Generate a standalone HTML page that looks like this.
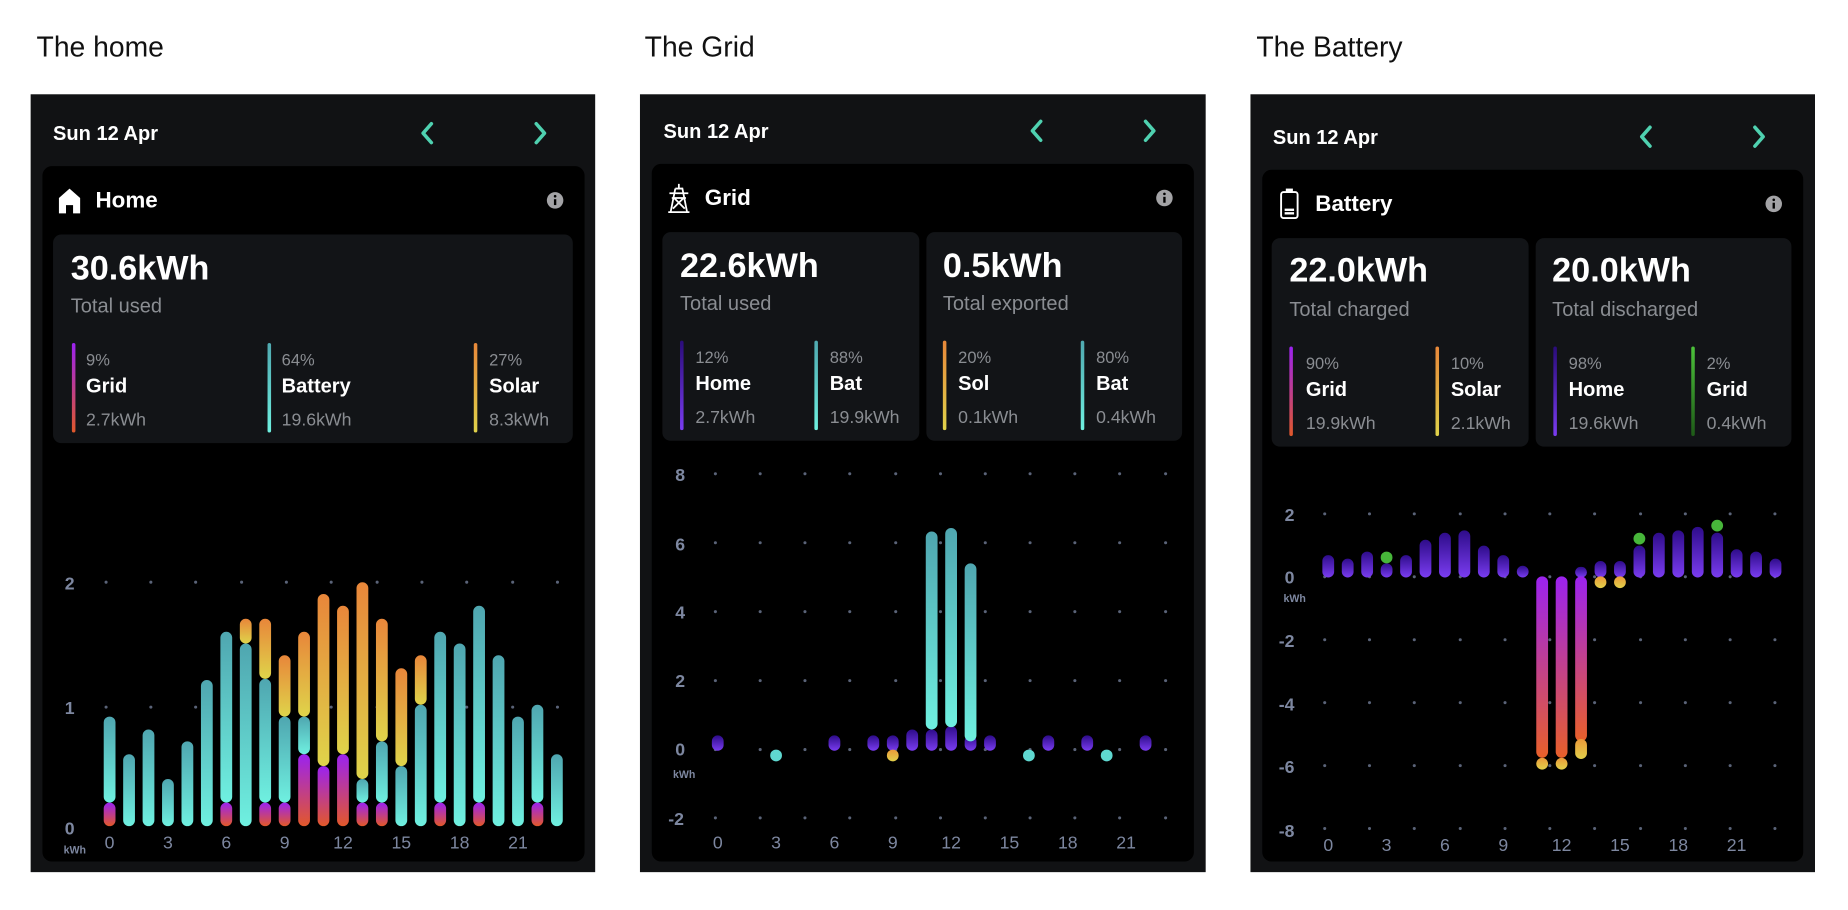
<!DOCTYPE html>
<html><head><meta charset="utf-8">
<style>
html,body{margin:0;padding:0;background:#fff;width:1848px;height:910px;overflow:hidden;}
#w{position:absolute;left:0;top:0;width:1568px;height:772px;transform:scale(1.17857);transform-origin:0 0;font-family:"Liberation Sans",sans-serif;}
.a{position:absolute;white-space:nowrap;line-height:1;}
.title{font-size:24px;color:#111;}
.panel{position:absolute;background:#111214;}
.card{position:absolute;background:#000;border-radius:8px;}
.box{position:absolute;background:#121417;border-radius:7px;}
.date{font-size:17px;font-weight:bold;color:#fff;}
.hd{font-size:19px;font-weight:bold;color:#fff;}
.big{font-size:29px;font-weight:bold;color:#fff;}
.sub{font-size:17px;color:#8a8d92;}
.pct{font-size:14px;color:#8a8d92;}
.nm{font-size:17px;font-weight:bold;color:#fff;}
.kw{font-size:15px;color:#8a8d92;}
.cb{position:absolute;width:3px;border-radius:2px;}
svg{position:absolute;left:0;top:0;}
</style></head><body><div id="w">
<div class="a title" style="left:31px;top:29px">The home</div>
<div class="a title" style="left:547px;top:29px">The Grid</div>
<div class="a title" style="left:1066px;top:29px">The Battery</div>

<div class="panel" style="left:26px;top:80px;width:479px;height:660px"></div>
<div class="panel" style="left:543px;top:80px;width:480px;height:660px"></div>
<div class="panel" style="left:1061px;top:80px;width:479px;height:660px"></div>

<div class="card" style="left:36px;top:141px;width:460px;height:590px"></div>
<div class="card" style="left:553px;top:139px;width:460px;height:592px"></div>
<div class="card" style="left:1071px;top:144px;width:459px;height:587px"></div>

<div class="a date" style="left:45px;top:105px">Sun 12 Apr</div>
<div class="a date" style="left:563px;top:103px">Sun 12 Apr</div>
<div class="a date" style="left:1080px;top:108px">Sun 12 Apr</div>

<div class="a hd" style="left:81px;top:161px">Home</div>
<div class="a hd" style="left:598px;top:159px">Grid</div>
<div class="a hd" style="left:1116px;top:164px">Battery</div>

<div class="box" style="left:45px;top:199px;width:441px;height:177px"></div>
<div class="box" style="left:562px;top:197px;width:218px;height:177px"></div>
<div class="box" style="left:786px;top:197px;width:217px;height:177px"></div>
<div class="box" style="left:1079px;top:202px;width:218px;height:177px"></div>
<div class="box" style="left:1303px;top:202px;width:217px;height:177px"></div>

<div class="a big" style="left:60px;top:214px">30.6kWh</div>
<div class="a sub" style="left:60px;top:251px">Total used</div>
<div class="cb" style="left:61px;top:291px;height:76px;background:linear-gradient(#9b22f0,#e0582a)"></div>
<div class="a pct" style="left:73px;top:298px">9%</div>
<div class="a nm" style="left:73px;top:319px">Grid</div>
<div class="a kw" style="left:73px;top:349px">2.7kWh</div>
<div class="cb" style="left:227px;top:291px;height:76px;background:linear-gradient(#4fa9b0,#6ff0e0)"></div>
<div class="a pct" style="left:239px;top:298px">64%</div>
<div class="a nm" style="left:239px;top:319px">Battery</div>
<div class="a kw" style="left:239px;top:349px">19.6kWh</div>
<div class="cb" style="left:402px;top:291px;height:76px;background:linear-gradient(#e8883a,#dfd24a)"></div>
<div class="a pct" style="left:415px;top:298px">27%</div>
<div class="a nm" style="left:415px;top:319px">Solar</div>
<div class="a kw" style="left:415px;top:349px">8.3kWh</div>

<div class="a big" style="left:577px;top:212px">22.6kWh</div>
<div class="a sub" style="left:577px;top:249px">Total used</div>
<div class="cb" style="left:577px;top:289px;height:76px;background:linear-gradient(#2a0c7a,#7a3cf0)"></div>
<div class="a pct" style="left:590px;top:296px">12%</div>
<div class="a nm" style="left:590px;top:317px">Home</div>
<div class="a kw" style="left:590px;top:347px">2.7kWh</div>
<div class="cb" style="left:691px;top:289px;height:76px;background:linear-gradient(#4fa9b0,#6ff0e0)"></div>
<div class="a pct" style="left:704px;top:296px">88%</div>
<div class="a nm" style="left:704px;top:317px">Bat</div>
<div class="a kw" style="left:704px;top:347px">19.9kWh</div>
<div class="a big" style="left:800px;top:212px">0.5kWh</div>
<div class="a sub" style="left:800px;top:249px">Total exported</div>
<div class="cb" style="left:800px;top:289px;height:76px;background:linear-gradient(#e8883a,#dfd24a)"></div>
<div class="a pct" style="left:813px;top:296px">20%</div>
<div class="a nm" style="left:813px;top:317px">Sol</div>
<div class="a kw" style="left:813px;top:347px">0.1kWh</div>
<div class="cb" style="left:917px;top:289px;height:76px;background:linear-gradient(#4fa9b0,#6ff0e0)"></div>
<div class="a pct" style="left:930px;top:296px">80%</div>
<div class="a nm" style="left:930px;top:317px">Bat</div>
<div class="a kw" style="left:930px;top:347px">0.4kWh</div>

<div class="a big" style="left:1094px;top:216px">22.0kWh</div>
<div class="a sub" style="left:1094px;top:254px">Total charged</div>
<div class="cb" style="left:1094px;top:294px;height:76px;background:linear-gradient(#9b22f0,#e0582a)"></div>
<div class="a pct" style="left:1108px;top:301px">90%</div>
<div class="a nm" style="left:1108px;top:322px">Grid</div>
<div class="a kw" style="left:1108px;top:352px">19.9kWh</div>
<div class="cb" style="left:1218px;top:294px;height:76px;background:linear-gradient(#e8883a,#dfd24a)"></div>
<div class="a pct" style="left:1231px;top:301px">10%</div>
<div class="a nm" style="left:1231px;top:322px">Solar</div>
<div class="a kw" style="left:1231px;top:352px">2.1kWh</div>
<div class="a big" style="left:1317px;top:216px">20.0kWh</div>
<div class="a sub" style="left:1317px;top:254px">Total discharged</div>
<div class="cb" style="left:1318px;top:294px;height:76px;background:linear-gradient(#2a0c7a,#7a3cf0)"></div>
<div class="a pct" style="left:1331px;top:301px">98%</div>
<div class="a nm" style="left:1331px;top:322px">Home</div>
<div class="a kw" style="left:1331px;top:352px">19.6kWh</div>
<div class="cb" style="left:1435px;top:294px;height:76px;background:linear-gradient(#4cc23a,#1e5a18)"></div>
<div class="a pct" style="left:1448px;top:301px">2%</div>
<div class="a nm" style="left:1448px;top:322px">Grid</div>
<div class="a kw" style="left:1448px;top:352px">0.4kWh</div>

<svg width="1568" height="772" viewBox="0 0 1568 772">
<defs>
<linearGradient id="gT" x1="0" y1="0" x2="0" y2="1"><stop offset="0" stop-color="#4fa6b0"/><stop offset="1" stop-color="#6ff0e0"/></linearGradient>
<linearGradient id="gS" x1="0" y1="0" x2="0" y2="1"><stop offset="0" stop-color="#e8863a"/><stop offset="1" stop-color="#dfd44a"/></linearGradient>
<linearGradient id="gG" x1="0" y1="0" x2="0" y2="1"><stop offset="0" stop-color="#9b22f0"/><stop offset="1" stop-color="#e2582a"/></linearGradient>
<linearGradient id="gP" x1="0" y1="0" x2="0" y2="1"><stop offset="0" stop-color="#2e0c8a"/><stop offset="1" stop-color="#7a3cf0"/></linearGradient>
<linearGradient id="gD" x1="0" y1="0" x2="0" y2="1"><stop offset="0" stop-color="#9b22f0"/><stop offset="1" stop-color="#e8602a"/></linearGradient>
<linearGradient id="gY" x1="0" y1="0" x2="0" y2="1"><stop offset="0" stop-color="#eb9a3a"/><stop offset="1" stop-color="#e2d04a"/></linearGradient>
</defs>
<g fill="none" stroke="#4fd1b0" stroke-width="3" stroke-linecap="round" stroke-linejoin="round">
<polyline points="366,105 359,113 366,121"/><polyline points="455,105 462,113 455,121"/>
<polyline points="883,103 876,111 883,119"/><polyline points="972,103 979,111 972,119"/>
<polyline points="1400,108 1393,116 1400,124"/><polyline points="1489,108 1496,116 1489,124"/>
</g>
<g fill="#a3a3a6"><circle cx="471" cy="170" r="7"/><circle cx="988" cy="168" r="7"/><circle cx="1505" cy="173" r="7"/></g>
<g fill="#000"><rect x="470" y="169" width="2" height="5"/><circle cx="471" cy="166.5" r="1.1"/><rect x="987" y="167" width="2" height="5"/><circle cx="988" cy="164.5" r="1.1"/><rect x="1504" y="172" width="2" height="5"/><circle cx="1505" cy="169.5" r="1.1"/></g>
<path d="M50,168 L59,160 L68,168 L68,181 L62,181 L62,174 L56,174 L56,181 L50,181 Z" fill="#fff"/>
<g stroke="#fff" stroke-width="1.5" fill="none"><path d="M576,156 L576,160 M568,164 L584,164 M570,168 L582,168 M573,160 L579,160 L583,180 M573,160 L569,180 M567,180 L585,180 M572,168 L581,177 M580,168 L571,177"/></g>
<g stroke="#fff" stroke-width="1.6" fill="none"><rect x="1087" y="163" width="14" height="22" rx="2"/></g>
<rect x="1091" y="160" width="6" height="3" fill="#fff"/><rect x="1090" y="177" width="8" height="2" fill="#fff"/><rect x="1090" y="180" width="8" height="2" fill="#fff"/>

<!-- HOME -->
<g fill="#5a6378">
<g id="r1"><circle cx="90" cy="494" r="1.3"/><circle cx="128" cy="494" r="1.3"/><circle cx="166" cy="494" r="1.3"/><circle cx="205" cy="494" r="1.3"/><circle cx="243" cy="494" r="1.3"/><circle cx="281" cy="494" r="1.3"/><circle cx="320" cy="494" r="1.3"/><circle cx="358" cy="494" r="1.3"/><circle cx="396" cy="494" r="1.3"/><circle cx="435" cy="494" r="1.3"/><circle cx="473" cy="494" r="1.3"/></g>
<use href="#r1" y="106"/>
</g>
<g font-family="Liberation Sans, sans-serif" font-weight="bold" font-size="15" fill="#7d87a0">
<text x="55" y="500">2</text><text x="55" y="606">1</text><text x="55" y="708">0</text>
<text x="54" y="724" font-size="9">kWh</text>
</g>
<g font-family="Liberation Sans, sans-serif" font-size="15" fill="#7d87a0" text-anchor="middle">
<text x="93" y="720">0</text><text x="142.5" y="720">3</text><text x="192" y="720">6</text><text x="241.5" y="720">9</text><text x="291" y="720">12</text><text x="340.5" y="720">15</text><text x="390" y="720">18</text><text x="439.5" y="720">21</text>
</g>
<g>
<rect x="88" y="681" width="10" height="20" rx="5" fill="url(#gG)"/><rect x="88" y="608" width="10" height="73" rx="5" fill="url(#gT)"/>
<rect x="104.5" y="640" width="10" height="61" rx="5" fill="url(#gT)"/>
<rect x="121" y="619" width="10" height="82" rx="5" fill="url(#gT)"/>
<rect x="137.5" y="661" width="10" height="40" rx="5" fill="url(#gT)"/>
<rect x="154" y="629" width="10" height="72" rx="5" fill="url(#gT)"/>
<rect x="170.5" y="577" width="10" height="124" rx="5" fill="url(#gT)"/>
<rect x="187" y="681" width="10" height="20" rx="5" fill="url(#gG)"/><rect x="187" y="536" width="10" height="145" rx="5" fill="url(#gT)"/>
<rect x="203.5" y="546" width="10" height="155" rx="5" fill="url(#gT)"/><rect x="203.5" y="525" width="10" height="21" rx="5" fill="url(#gS)"/>
<rect x="220" y="681" width="10" height="20" rx="5" fill="url(#gG)"/><rect x="220" y="576" width="10" height="105" rx="5" fill="url(#gT)"/><rect x="220" y="525" width="10" height="51" rx="5" fill="url(#gS)"/>
<rect x="236.5" y="681" width="10" height="20" rx="5" fill="url(#gG)"/><rect x="236.5" y="608" width="10" height="73" rx="5" fill="url(#gT)"/><rect x="236.5" y="556" width="10" height="52" rx="5" fill="url(#gS)"/>
<rect x="253" y="640" width="10" height="61" rx="5" fill="url(#gG)"/><rect x="253" y="608" width="10" height="32" rx="5" fill="url(#gT)"/><rect x="253" y="536" width="10" height="72" rx="5" fill="url(#gS)"/>
<rect x="269.5" y="650" width="10" height="51" rx="5" fill="url(#gG)"/><rect x="269.5" y="504" width="10" height="146" rx="5" fill="url(#gS)"/>
<rect x="286" y="640" width="10" height="61" rx="5" fill="url(#gG)"/><rect x="286" y="514" width="10" height="126" rx="5" fill="url(#gS)"/>
<rect x="302.5" y="681" width="10" height="20" rx="5" fill="url(#gG)"/><rect x="302.5" y="661" width="10" height="20" rx="5" fill="url(#gT)"/><rect x="302.5" y="494" width="10" height="167" rx="5" fill="url(#gS)"/>
<rect x="319" y="681" width="10" height="20" rx="5" fill="url(#gG)"/><rect x="319" y="629" width="10" height="52" rx="5" fill="url(#gT)"/><rect x="319" y="525" width="10" height="104" rx="5" fill="url(#gS)"/>
<rect x="335.5" y="650" width="10" height="51" rx="5" fill="url(#gT)"/><rect x="335.5" y="567" width="10" height="83" rx="5" fill="url(#gS)"/>
<rect x="352" y="598" width="10" height="103" rx="5" fill="url(#gT)"/><rect x="352" y="556" width="10" height="42" rx="5" fill="url(#gS)"/>
<rect x="368.5" y="681" width="10" height="20" rx="5" fill="url(#gG)"/><rect x="368.5" y="536" width="10" height="145" rx="5" fill="url(#gT)"/>
<rect x="385" y="546" width="10" height="155" rx="5" fill="url(#gT)"/>
<rect x="401.5" y="681" width="10" height="20" rx="5" fill="url(#gG)"/><rect x="401.5" y="514" width="10" height="167" rx="5" fill="url(#gT)"/>
<rect x="418" y="556" width="10" height="145" rx="5" fill="url(#gT)"/>
<rect x="434.5" y="608" width="10" height="93" rx="5" fill="url(#gT)"/>
<rect x="451" y="681" width="10" height="20" rx="5" fill="url(#gG)"/><rect x="451" y="598" width="10" height="83" rx="5" fill="url(#gT)"/>
<rect x="467.5" y="640" width="10" height="61" rx="5" fill="url(#gT)"/>
</g>

<!-- GRID -->
<g fill="#5a6378">
<g id="r2"><circle cx="607" cy="402" r="1.3"/><circle cx="645" cy="402" r="1.3"/><circle cx="683" cy="402" r="1.3"/><circle cx="721" cy="402" r="1.3"/><circle cx="760" cy="402" r="1.3"/><circle cx="798" cy="402" r="1.3"/><circle cx="836" cy="402" r="1.3"/><circle cx="874" cy="402" r="1.3"/><circle cx="912" cy="402" r="1.3"/><circle cx="950" cy="402" r="1.3"/><circle cx="989" cy="402" r="1.3"/></g>
<use href="#r2" y="58.5"/><use href="#r2" y="117"/><use href="#r2" y="175.5"/><use href="#r2" y="234"/><use href="#r2" y="292"/>
</g>
<g font-family="Liberation Sans, sans-serif" font-weight="bold" font-size="15" fill="#7d87a0">
<text x="573" y="408">8</text><text x="573" y="467">6</text><text x="573" y="525">4</text><text x="573" y="583">2</text><text x="573" y="641">0</text><text x="567" y="700">-2</text>
<text x="571" y="660" font-size="9">kWh</text>
</g>
<g font-family="Liberation Sans, sans-serif" font-size="15" fill="#7d87a0" text-anchor="middle">
<text x="609" y="720">0</text><text x="658.5" y="720">3</text><text x="708" y="720">6</text><text x="757.5" y="720">9</text><text x="807" y="720">12</text><text x="856.5" y="720">15</text><text x="906" y="720">18</text><text x="955.5" y="720">21</text>
</g>
<g fill="url(#gP)">
<rect x="604" y="624" width="10" height="13" rx="5"/>
<rect x="703" y="624" width="10" height="13" rx="5"/>
<rect x="736" y="624" width="10" height="13" rx="5"/>
<rect x="752.5" y="624" width="10" height="13" rx="5"/>
<rect x="769" y="619" width="10" height="18" rx="5"/>
<rect x="785.5" y="619" width="10" height="18" rx="5"/>
<rect x="802" y="616" width="10" height="21" rx="5"/>
<rect x="818.5" y="624" width="10" height="13" rx="5"/>
<rect x="835" y="624" width="10" height="13" rx="5"/>
<rect x="884.5" y="624" width="10" height="13" rx="5"/>
<rect x="917.5" y="624" width="10" height="13" rx="5"/>
<rect x="967" y="624" width="10" height="13" rx="5"/>
</g>
<rect x="785.5" y="451" width="10" height="168" rx="5" fill="url(#gT)"/>
<rect x="802" y="448" width="10" height="169" rx="5" fill="url(#gT)"/>
<rect x="818.5" y="478" width="10" height="151" rx="5" fill="url(#gT)"/>
<g fill="#5fd8d0"><circle cx="658.5" cy="641" r="5"/><circle cx="873" cy="641" r="5"/><circle cx="939" cy="641" r="5"/></g>
<circle cx="757.5" cy="641" r="5" fill="url(#gY)"/>

<!-- BATTERY -->
<g fill="#5a6378">
<g id="r3"><circle cx="1124" cy="436" r="1.3"/><circle cx="1162" cy="436" r="1.3"/><circle cx="1200" cy="436" r="1.3"/><circle cx="1239" cy="436" r="1.3"/><circle cx="1277" cy="436" r="1.3"/><circle cx="1315" cy="436" r="1.3"/><circle cx="1353" cy="436" r="1.3"/><circle cx="1392" cy="436" r="1.3"/><circle cx="1430" cy="436" r="1.3"/><circle cx="1468" cy="436" r="1.3"/><circle cx="1506" cy="436" r="1.3"/></g>
<use href="#r3" y="53.4"/><use href="#r3" y="106.8"/><use href="#r3" y="160.2"/><use href="#r3" y="213.6"/><use href="#r3" y="267"/>
</g>
<g font-family="Liberation Sans, sans-serif" font-weight="bold" font-size="15" fill="#7d87a0">
<text x="1090" y="442">2</text><text x="1090" y="495">0</text><text x="1085" y="549">-2</text><text x="1085" y="603">-4</text><text x="1085" y="656">-6</text><text x="1085" y="710">-8</text>
<text x="1089" y="511" font-size="9">kWh</text>
</g>
<g font-family="Liberation Sans, sans-serif" font-size="15" fill="#7d87a0" text-anchor="middle">
<text x="1127" y="722">0</text><text x="1176.5" y="722">3</text><text x="1226" y="722">6</text><text x="1275.5" y="722">9</text><text x="1325" y="722">12</text><text x="1374.5" y="722">15</text><text x="1424" y="722">18</text><text x="1473.5" y="722">21</text>
</g>
<g fill="url(#gP)">
<rect x="1122" y="471" width="10" height="19" rx="5"/>
<rect x="1138.5" y="474" width="10" height="16" rx="5"/>
<rect x="1155" y="468" width="10" height="22" rx="5"/>
<rect x="1171.5" y="478" width="10" height="12" rx="5"/>
<rect x="1188" y="471" width="10" height="19" rx="5"/>
<rect x="1204.5" y="458" width="10" height="32" rx="5"/>
<rect x="1221" y="452" width="10" height="38" rx="5"/>
<rect x="1237.5" y="450" width="10" height="40" rx="5"/>
<rect x="1254" y="463" width="10" height="27" rx="5"/>
<rect x="1270.5" y="471" width="10" height="19" rx="5"/>
<rect x="1287" y="480" width="10" height="10" rx="5"/>
<rect x="1336.5" y="481" width="10" height="9" rx="4.5"/>
<rect x="1353" y="476" width="10" height="14" rx="5"/>
<rect x="1369.5" y="476" width="10" height="14" rx="5"/>
<rect x="1386" y="463" width="10" height="27" rx="5"/>
<rect x="1402.5" y="452" width="10" height="38" rx="5"/>
<rect x="1419" y="450" width="10" height="40" rx="5"/>
<rect x="1435.5" y="447" width="10" height="43" rx="5"/>
<rect x="1452" y="452" width="10" height="38" rx="5"/>
<rect x="1468.5" y="466" width="10" height="24" rx="5"/>
<rect x="1485" y="468" width="10" height="22" rx="5"/>
<rect x="1501.5" y="474" width="10" height="16" rx="5"/>
</g>
<rect x="1303.5" y="489" width="10" height="154" rx="5" fill="url(#gD)"/>
<rect x="1320" y="489" width="10" height="154" rx="5" fill="url(#gD)"/>
<rect x="1336.5" y="489" width="10" height="140" rx="5" fill="url(#gD)"/>
<rect x="1336.5" y="627" width="10" height="17" rx="5" fill="url(#gY)"/>
<g fill="url(#gY)"><circle cx="1308.5" cy="648" r="5"/><circle cx="1325" cy="648" r="5"/><circle cx="1358" cy="494" r="5"/><circle cx="1374.5" cy="494" r="5"/></g>
<g fill="#47b63a"><circle cx="1176.5" cy="473" r="5"/><circle cx="1391" cy="457" r="5"/><circle cx="1457" cy="446" r="5"/></g>
</svg>
</div></body></html>
